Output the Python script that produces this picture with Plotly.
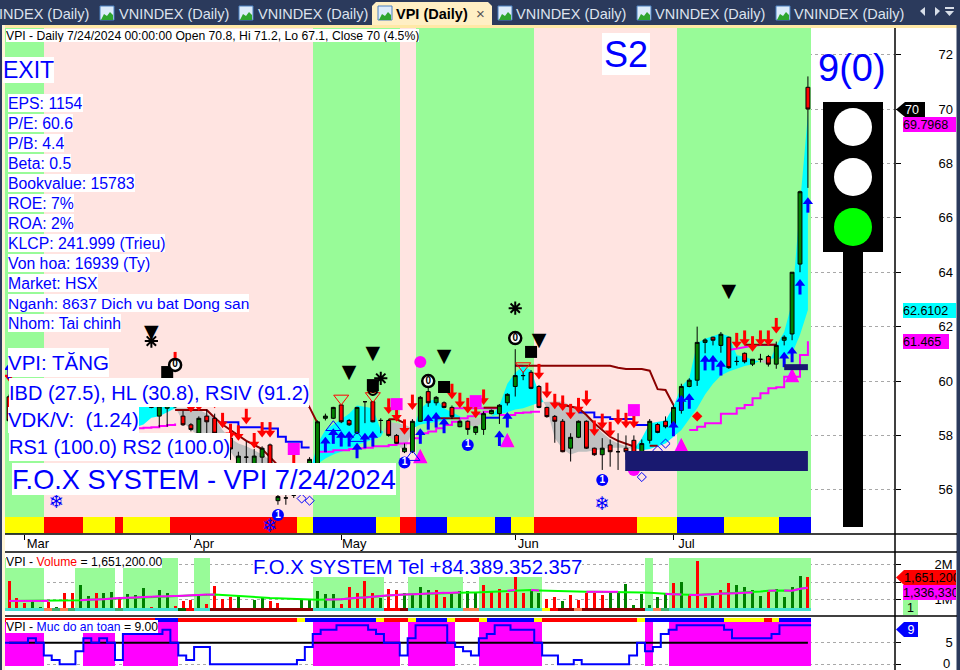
import plotly.graph_objects as go

# ---------- price data (one entry per trading bar) ----------
opens = [59.42,58.6,58.9,59.2,59.4,59.3,59.2,59.4,59.6,59.5,59.6,59.7,59.6,59.5,59.6,59.7,59.5,59.4,59.12,58.71,
         59.0,59.12,58.71,58.39,58.08,58.71,58.63,58.0,57.9,56.9,57.2,56.8,57.2,57.65,55.6,55.7,55.8,56.5,56.6,56.9,
         58.63,58.63,59.12,58.55,58.08,59.24,59.24,58.55,58.55,58.0,
         57.4,57.4,58.52,59.61,59.2,59.2,59.03,58.32,58.52,58.11,58.22,58.8,58.8,59.2,59.8,60.2,60.32,59.8,59.03,58.7,
         58.52,57.53,57.93,58.52,57.53,57.29,57.65,57.4,57.53,57.82,57.29,57.82,58.4,58.52,58.32,58.92,59.8,60.03,61.42,61.61,
         61.31,61.61,60.72,61.02,60.62,60.8,60.9,60.62,61.5,61.73,64.3,70.8]
highs = [59.5,59.0,59.3,59.5,59.6,59.5,59.5,59.7,59.8,59.7,59.8,59.9,59.8,59.7,59.8,59.9,59.7,59.6,59.2,59.2,
         59.3,59.3,58.9,58.45,58.7,58.95,58.8,58.05,58.0,57.4,57.77,57.5,57.6,57.7,55.85,55.9,55.85,56.7,57.2,58.55,
         58.8,59.05,59.15,58.6,59.05,59.24,59.26,58.63,58.6,58.05,
         57.7,58.6,59.45,59.77,59.45,59.25,59.1,58.55,58.55,58.35,58.88,58.95,59.15,59.55,61.17,60.35,60.4,59.85,59.05,58.75,
         58.6,58.08,58.55,58.55,57.55,57.9,57.85,58.08,58.0,58.0,57.85,58.6,58.45,58.7,59.12,59.9,60.1,62.0,61.57,61.63,
         61.8,61.63,60.9,61.05,60.8,61.0,60.96,61.45,61.68,64.0,67.0,71.2]
lows = [58.5,58.5,58.8,59.1,59.2,59.1,59.0,59.3,59.4,59.3,59.5,59.5,59.4,59.3,59.5,59.4,59.3,59.2,59.0,58.3,
        58.32,59.0,58.35,58.15,58.0,58.05,57.9,57.5,57.1,56.8,56.9,56.7,56.97,56.4,55.45,55.45,55.7,56.2,56.5,56.8,
        58.55,58.6,58.45,58.35,58.05,58.45,58.48,58.08,57.95,57.7,
        57.35,57.35,58.5,59.05,59.1,59.0,58.6,58.3,58.02,58.02,58.02,58.78,58.42,59.1,59.43,60.03,59.7,59.0,58.65,57.73,
        57.38,57.04,57.9,57.5,57.25,56.73,56.85,56.73,57.1,57.04,57.04,57.7,58.08,58.26,58.14,58.8,59.77,59.82,61.02,61.31,
        61.04,60.45,60.57,60.65,60.55,60.68,60.53,60.45,61.31,61.5,64.0,67.1]
closes = [58.54,58.9,59.2,59.4,59.3,59.2,59.4,59.6,59.5,59.6,59.7,59.6,59.5,59.6,59.7,59.5,59.4,59.3,59.03,59.08,
          59.1,59.05,58.39,58.22,58.63,58.5,58.08,57.6,57.5,57.24,57.2,57.24,57.53,56.6,55.75,55.7,55.8,56.3,57.12,58.5,
          58.71,59.03,58.5,58.39,59.03,59.24,58.5,58.55,58.0,57.71,
          57.53,58.52,59.4,59.2,59.4,59.03,58.69,58.52,58.22,58.32,58.8,58.92,59.11,59.51,60.2,60.2,59.73,59.03,58.69,58.52,
          57.4,57.93,58.52,57.53,57.29,57.53,57.4,57.4,57.4,57.23,57.7,58.52,58.11,58.32,59.03,59.8,60.03,61.42,61.51,61.5,
          61.72,60.49,60.72,60.71,60.8,60.8,60.62,61.31,61.61,64.0,66.96,70.0]

# cloud edges (fast / slow)
cloud_fast = [59.0,59.0,59.0,59.0,59.0,59.0,59.0,59.0,59.0,59.0,59.0,59.0,59.0,59.0,59.0,59.05,59.05,59.08,59.08,59.1,
              59.1,59.05,58.5,58.2,58.0,57.9,57.8,57.5,57.4,57.0,56.9,56.9,56.7,56.5,56.3,56.2,56.2,56.2,56.6,57.7,
              58.2,58.4,58.6,58.8,59.1,59.05,59.0,58.2,58.0,57.7,
              57.4,58.2,58.95,59.25,59.35,59.0,58.85,58.7,58.4,58.3,58.5,58.7,59.1,59.9,60.3,60.55,60.4,59.55,59.0,57.9,
              57.5,57.3,57.4,57.4,57.45,57.5,57.55,57.55,57.55,57.5,57.9,58.45,58.5,58.55,59.05,59.8,60.1,61.4,61.55,61.65,
              61.75,61.65,60.95,60.9,60.78,60.72,60.6,61.3,61.8,62.9,66.5,69.7968]
cloud_slow = [57.9,57.9,57.95,58.0,58.0,58.05,58.05,58.1,58.1,58.15,58.15,58.2,58.2,58.25,58.25,58.3,58.3,58.4,58.65,58.7,
              58.85,59.0,59.0,59.0,58.95,58.8,58.65,58.2,57.9,57.7,57.6,57.45,57.3,57.1,56.9,56.8,56.7,56.6,56.6,56.95,
              57.15,57.3,57.4,57.5,57.65,57.75,57.85,57.95,58.5,58.45,
              58.4,58.25,58.4,58.45,58.5,58.55,58.6,58.62,58.62,58.62,58.65,58.7,58.78,58.85,58.95,59.0,59.1,59.2,59.25,59.25,
              59.25,59.1,59.0,58.8,58.4,58.1,57.85,57.7,57.6,57.55,57.45,57.5,57.6,57.7,57.95,58.2,58.6,59.0,59.5,59.9,
              60.2,60.35,60.45,60.55,60.62,60.75,60.8,60.85,60.9,61.0,61.7,62.6102]

# indicator lines: bar numbers and values, None breaks the line
red_line_bars = [21,22,23,24,25,26,27,28,29,30,31,32,33,34,None,37,38,39,None,48,49,50,None,54,55,56,57,None,60,61,62,None,
                 64,65,66,67,68,69,70,71,72,73,74,75,76,77,78,79,80,81,82,83,84,None,
                 69,70,71,72,73,74,75,76,77,78,79,None,81,82,None,93,94,95,96,97]
red_line_vals = [58.93,58.93,58.93,58.93,58.93,58.65,58.4,58.2,58.0,57.8,57.65,57.5,57.2,56.9,None,59.5,59.03,58.45,None,58.59,58.59,58.45,None,58.63,58.63,58.63,58.63,None,59.02,59.02,59.02,None,
                 60.56,60.56,60.56,60.56,60.56,60.56,60.56,60.56,60.56,60.56,60.56,60.56,60.56,60.49,60.44,60.44,60.44,60.38,59.7,59.67,59.12,None,
                 59.18,59.12,59.06,59.0,58.75,58.45,58.2,57.95,57.8,57.7,57.59,None,57.62,57.62,None,61.33,61.33,61.33,61.33,61.33]
blue_line_bars = [27,28,29,30,31,32,33,34,35,36,37,38,None,60,61,62,None,72,73,74,75,76,77,78,79,80,81]
blue_line_vals = [58.48,58.48,58.3,58.3,58.3,58.25,58.25,57.95,57.77,57.77,57.56,57.56,None,58.65,58.65,58.65,None,58.84,58.84,58.67,58.67,58.6,58.6,58.6,58.38,58.38,58.38]
support_bars = [0,1,2,3,4,5,6,7,8,9,10,11,12,13,14,15,16,17,18,19,20,21,None,
                39,40,41,42,43,44,45,46,47,48,49,50,51,52,53,54,55,56,57,58,59,60,61,None,62,63,64,65,66,67,None,
                86,87,88,89,90,91,92,93,94,95,96,97,98,99,100,101]
support_vals = [57.65,57.7,57.7,57.75,57.8,57.85,57.9,57.95,57.95,58.0,58.0,58.05,58.05,58.1,58.15,58.2,58.26,58.28,58.3,58.35,58.38,58.44,None,
                57.4,57.4,57.45,57.45,57.5,57.53,57.55,57.6,57.6,57.65,57.7,57.71,57.9,58.08,58.14,58.26,58.38,58.5,58.63,58.7,58.8,58.87,58.87,None,58.75,58.75,58.82,58.84,58.87,58.91,None,
                58.2,58.32,58.45,58.45,58.8,58.8,59.0,59.12,59.37,59.55,59.73,59.77,60.16,60.16,60.96,61.465]
upper_bars = [56,57,58,59,60,61,62,None,64,65,None,91,92,93,94,95,96,97]
upper_vals = [59.0,59.0,59.0,59.0,59.0,59.0,59.0,None,60.56,60.56,None,61.14,61.2,61.25,61.3,61.32,61.33,61.33]

# signal markers
sell_bars = [0,21,23,24,26,27,28,29,30,31,32,33,36,48,49,50,51,56,57,58,59,60,67,68,69,70,71,72,73,74,75,76,77,78,79,92,93,94,95,96,97]
sell_prices = [59.98,60.5,58.84,58.9,59.0,58.26,57.86,57.8,58.41,57.52,57.92,57.92,56.73,58.79,58.5,58.02,58.93,59.33,59.0,58.81,58.63,59.12,
               60.06,59.37,58.96,58.9,58.59,58.81,59.08,57.98,58.23,57.93,58.38,58.26,58.26,61.2,61.29,61.08,61.29,61.29,61.75]
buy_bars = [0,40,41,42,43,44,45,46,52,53,54,55,62,63,84,85,86,88,89,90,98,99,100,101]
buy_prices = [60.65,57.95,58.26,58.16,58.16,57.73,58.1,58.16,58.26,58.78,58.86,58.65,58.18,58.86,58.54,59.49,59.55,60.96,60.96,60.77,61.08,61.26,63.75,66.76]
black_tri_bars = [18,43,46,55,67,91]
black_tri_prices = [61.76,60.29,60.99,60.88,61.47,63.27]
black_sq_bars = [20,46,55,66]
black_sq_prices = [60.33,59.85,59.78,61.07]
zero_bars = [21,53,64]
zero_prices = [60.59,60.0,61.58]
star_bars = [18,47,64]
star_prices = [61.47,60.1,62.68]
mag_sq_bars = [36,49,59,79]
mag_sq_prices = [57.5,59.15,59.26,58.93]
mag_tri_bars = [40,52,63,85,99]
mag_tri_prices = [56.7,57.24,57.83,57.65,60.2]
mag_dot_bars = [52,79]
mag_dot_prices = [60.7,56.73]
red_dia_bars = [87]
red_dia_prices = [58.7]
one_bars = [34,50,58,75]
one_prices = [55.07,57.0,57.65,56.36]
snow_bars = [6,33,75]
snow_prices = [55.5,54.63,55.44]
open_down_bars = [42,46,65]
open_down_prices = [59.36,59.45,60.55]
open_up_bars = [41,44,51,80]
open_up_prices = [58.3,57.9,57.2,56.85]
open_dia_bars = [37,38,80,82,83]
open_dia_prices = [55.68,55.6,56.47,57.45,57.7]

# volume (millions)
volumes = [1.53,1.03,.90,1.00,.78,.94,.78,1.18,1.19,1.41,1.10,1.20,1.20,1.21,1.06,1.15,1.13,1.33,.78,1.27,
           1.20,.81,.96,.98,1.13,.87,1.38,1.01,1.08,1.12,.71,.98,1.03,.96,.89,.72,.73,.98,.98,1.23,
           1.17,1.16,.87,1.36,1.20,1.53,1.20,1.03,1.30,1.27,1.20,1.15,1.36,1.27,1.26,1.07,1.17,1.24,1.24,1.20,
           1.41,1.24,1.30,1.20,1.63,1.19,1.27,1.19,1.01,1.07,.96,1.13,.98,1.20,1.20,1.13,1.20,1.22,1.44,.84,
           1.16,.84,1.08,1.20,1.47,1.50,1.15,2.11,1.07,1.10,1.27,1.47,1.41,1.36,1.27,1.10,1.21,1.30,1.07,1.36,1.67,1.6512]
volume_sides = list("rrrggrgrrggrggrgggrggrrrgrrrrgrggrrrggggg"
                    "grrrrrgrrgggg" "rrgggg"
                    "rrrrrrggrrgrrrrrgg" "ggggggrgrrrgrrggggr")
volume_sides = (volume_sides + ["g"] * 102)[:102]
volume_sides[-1] = "r"
volume_ma = [.96,.96,.96,.96,.96,.96,.96,.96,.97,.98,.99,1.0,1.01,1.03,1.04,1.05,1.06,1.07,1.08,1.09,
             1.09,1.10,1.11,1.12,1.13,1.14,1.14,1.13,1.12,1.11,1.09,1.07,1.06,1.04,1.03,1.01,1.0,.99,.99,.99,
             1.0,1.0,1.01,1.03,1.05,1.06,1.08,1.10,1.12,1.13,1.14,1.15,1.16,1.17,1.18,1.19,1.19,1.20,1.20,1.20,
             1.21,1.22,1.24,1.25,1.27,1.27,1.27,1.26,1.25,1.25,1.24,1.24,1.23,1.22,1.22,1.22,1.22,1.22,1.21,1.21,
             1.20,1.19,1.17,1.16,1.15,1.14,1.13,1.13,1.14,1.15,1.17,1.17,1.18,1.19,1.20,1.23,1.25,1.26,1.26,1.25,1.31,1.336]
ma_color_runs = [("m",5),("l",4),("m",17),("l",14),("m",17),("l",6),("m",1),("l",2),("m",1),("l",6),("m",4),("l",6),
                 ("m",2),("l",1),("m",8),("l",2),("m",1),("l",1),("m",4)]

# safety score 0-9
safety = [5,5,5,6,5,2,1,0,0,3,6,5,6,5,1,7,7,7,7,7,8,5,2,1,4,4,0,0,0,0,0,0,0,0,0,0,0,1,4,7,
          8,8,9,9,9,9,8,7,5,5,2,6,9,9,9,9,5,4,3,2,6,7,9,9,8,8,8,5,2,2,0,0,1,0,0,0,0,0,0,2,
          5,3,4,7,8,9,9,9,9,9,9,8,6,6,6,6,6,7,9,9,9,9]

# state runs (state, number of bars)
regime_runs = [("g",5),("p",34),("g",11),("p",2),("g",15),("p",18),("g",17)]
strip_runs = [("y",5),("r",5),("y",4),("r",1),("y",6),("r",16),("y",2),("b",8),("y",3),("r",2),("b",4),("y",6),("b",2),("y",3),
              ("r",13),("y",5),("b",6),("y",7),("b",4)]
vol_zone_runs = [("g",5),("w",4),("g",5),("w",1),("g",7),("w",2),("g",2),("w",13),("g",9),("w",3),("g",7),("w",2),("g",8),("w",13),("g",1),("w",2),("g",18)]
safe_zone_runs = [("g",5),("w",5),("g",4),("w",1),("g",7),("w",17),("g",11),("w",1),("g",6),("w",3),("g",8),("w",13),("g",1),("w",2),("g",18)]
safe_strip_runs = [("r",19),("b",3),("r",15),("y",1),("b",9),("y",1),("r",3),("y",1),("b",4),("y",1),("r",3),("y",1),("b",6),("y",1),("r",12),("y",1),("b",10),("y",5),("r",1),("y",1),("b",4)]
vol_foot = ["t"]*5 + ["c","s","c","s"] + ["t"]*5 + ["s"] + ["t"]*7 + ["d","r"] + ["t"]*2 + ["k"]*13 + ["t"]*9 + ["r","r","k"] + ["t"]*7 + ["c","c"] + ["t"]*8 + ["y","r","k","k","c"] + ["k"]*8 + ["t"] + ["c","s"] + ["t"]*18

month_bars = [2,23,42,64,84]
month_labels = ["Mar","Apr","May","Jun","Jul"]
info_lines = ["EPS: 1154","P/E: 60.6","P/B: 4.4","Beta: 0.5","Bookvalue: 15783","ROE: 7%","ROA: 2%","KLCP: 241.999 (Trieu)",
              "Von hoa: 16939 (Ty)","Market: HSX","Nganh: 8637 Dich vu bat Dong san","Nhom: Tai chinh"]
zones = [(77.9,101,56.69,57.43),(98,101,60.4,60.62)]

# ---------- helpers ----------
W, H = 960, 670
FONT = "Liberation Sans"
GREEN, PINK, BLUE, MAG = "#98FB98", "#FFE4E1", "#0000FF", "#FF00FF"
NAVY, DKRED, CYAN = "#191970", "#8B0000", "#00FFFF"
NB = len(closes)
idx = list(range(NB))
assert all(len(a) == NB for a in (opens, highs, lows, closes, cloud_fast, cloud_slow, volumes, volume_sides, volume_ma, safety, vol_foot))

def expand(runs):
    out = []
    for s, n in runs:
        out += [s] * n
    assert len(out) == NB, len(out)
    return out

def px(x): return x / W
def py(y): return 1 - y / H

fig = go.Figure()
P_LO, P_HI = 54.375, 72.98
V_LO, V_HI = 0.529, 2.357
S_LO, S_HI = -1.33, 11.17

def block(states, cmap, lo, hi, yaxis):
    """one bar for every trading bar, edges sit a little left of the candle centre"""
    fig.add_trace(go.Bar(x=idx, y=[hi - lo] * NB, base=lo, width=1, offset=-0.6,
                         marker=dict(color=[cmap[s] for s in states], line=dict(width=0)),
                         yaxis=yaxis, hoverinfo="skip", showlegend=False))

block(expand(regime_runs), {"g": GREEN, "p": PINK}, P_LO, P_HI, "y")
block(expand(strip_runs), {"y": "#FFFF00", "r": "#FF0000", "b": "#0000FF"}, 54.41, 55.0, "y")
block(expand(vol_zone_runs), {"g": GREEN, "w": "rgba(0,0,0,0)"}, 0.68, 2.186, "y2")
block(expand(safe_zone_runs), {"g": MAG, "w": "rgba(0,0,0,0)"}, -0.4, 9.8, "y3")
block(expand(safe_strip_runs), {"y": "#FFFF00", "r": "#FF0000", "b": "#0000FF"}, 9.8, 10.7, "y3")

# volume bars
fig.add_trace(go.Bar(x=idx, y=[v - 0.68 for v in volumes], base=0.68, width=0.38,
                     marker=dict(color=["#FF0000" if s == "r" else "#008000" for s in volume_sides], line=dict(width=0)),
                     yaxis="y2", hoverinfo="skip", showlegend=False))
block(vol_foot, {"t": "#40E0D0", "c": "#FF7F50", "s": "#3CB371", "d": "#006400", "r": "#FF0000", "k": "#8B0000", "y": "#FFFF00"},
      0.68, 0.76, "y2")

# cloud
def cloud_segments(a, b):
    segs = []
    def cross(i):
        d0, d1 = a[i] - b[i], a[i + 1] - b[i + 1]
        t = d0 / (d0 - d1)
        return i + t, a[i] + t * (a[i + 1] - a[i])
    cur = a[0] >= b[0]
    xs, ya, yb = [], [], []
    for i in range(NB):
        s = a[i] >= b[i]
        if s != cur:
            cx, cy = cross(i - 1)
            xs.append(cx); ya.append(cy); yb.append(cy)
            segs.append((cur, xs, ya, yb))
            xs, ya, yb = [cx], [cy], [cy]
            cur = s
        xs.append(i); ya.append(a[i]); yb.append(b[i])
    segs.append((cur, xs, ya, yb))
    return segs

for up, xs, ya, yb in cloud_segments(cloud_fast, cloud_slow):
    fig.add_trace(go.Scatter(x=xs + xs[::-1], y=ya + yb[::-1], mode="lines", fill="toself",
                             fillcolor=CYAN if up else "#C0C0C0", line=dict(width=0),
                             yaxis="y", hoverinfo="skip", showlegend=False))

def line(xs, ys, color, width=2, shape="linear", yaxis="y"):
    fig.add_trace(go.Scatter(x=xs, y=ys, mode="lines", connectgaps=False,
                             line=dict(color=color, width=width, shape=shape),
                             yaxis=yaxis, hoverinfo="skip", showlegend=False))

line(blue_line_bars, blue_line_vals, BLUE, shape="hv")
line(support_bars, support_vals, MAG, shape="hv")
line(upper_bars, upper_vals, MAG)
line(red_line_bars, red_line_vals, DKRED)

# candles sit on the overlay axis so that they stay above the cloud
fig.add_trace(go.Candlestick(x=idx, open=opens, high=highs, low=lows, close=closes, yaxis="y4",
                             increasing=dict(fillcolor="#008000", line=dict(color="black", width=1)),
                             decreasing=dict(fillcolor="#FF0000", line=dict(color="black", width=1)),
                             whiskerwidth=0, hoverinfo="skip", showlegend=False))

UNIT = 27.2  # screen pixels per price point, only used to size arrows
def arrows(bars, prices, color, direction):
    sx, sy = [], []
    for b, p in zip(bars, prices):
        sx += [b, b, None]
        sy += [p + direction * 6 / UNIT, p + direction * 15.5 / UNIT, None]
    fig.add_trace(go.Scatter(x=sx, y=sy, mode="lines", line=dict(color=color, width=3), yaxis="y4",
                             hoverinfo="skip", showlegend=False))
    fig.add_trace(go.Scatter(x=bars, y=[p + direction * 4.5 / UNIT for p in prices], mode="markers",
                             marker=dict(symbol="triangle-down" if direction > 0 else "triangle-up", size=9, color=color, line=dict(width=0)),
                             yaxis="y4", hoverinfo="skip", showlegend=False))

arrows(sell_bars, sell_prices, "#FF0000", 1)
arrows(buy_bars, buy_prices, "#0000FF", -1)

def marks(bars, prices, symbol, size, color, lw=0, lc=None, text=None, tc="black", ts=10):
    fig.add_trace(go.Scatter(x=bars, y=prices, mode="markers+text" if text else "markers",
                             marker=dict(symbol=symbol, size=size, color=color, line=dict(width=lw, color=lc or color)),
                             text=[text] * len(bars) if text else None, textposition="middle center",
                             textfont=dict(family=FONT, size=ts, color=tc),
                             yaxis="y4", hoverinfo="skip", showlegend=False))

def glyphs(bars, prices, glyph, size, color):
    fig.add_trace(go.Scatter(x=bars, y=prices, mode="text", text=[glyph] * len(bars), textposition="middle center",
                             textfont=dict(family="DejaVu Sans", size=size, color=color), yaxis="y4", hoverinfo="skip", showlegend=False))

marks(mag_dot_bars, mag_dot_prices, "circle", 12, MAG)
glyphs(mag_tri_bars, mag_tri_prices, "▲", 19, MAG)
marks(mag_sq_bars, mag_sq_prices, "square", 12, MAG)
marks(red_dia_bars, red_dia_prices, "diamond", 8, "#FF0000")
marks(open_down_bars, open_down_prices, "triangle-down-open", 13, "#FF0000", 1, "#FF0000")
marks(open_up_bars, open_up_prices, "triangle-up-open", 13, BLUE, 1, BLUE)
marks(open_dia_bars, open_dia_prices, "diamond-open", 7, BLUE, 1, BLUE)
glyphs(black_tri_bars, black_tri_prices, "▼", 19, "black")
marks(black_sq_bars, black_sq_prices, "square", 12, "black")
marks(star_bars, star_prices, "asterisk-open", 11, "black", 2, "black")
marks(zero_bars, zero_prices, "circle", 12, "white", 2.5, "black", "<b>0</b>", "black", 10)
marks(one_bars, one_prices, "circle", 12, BLUE, 0, None, "<b>1</b>", "white", 10)
glyphs(snow_bars, snow_prices, "❄", 19, BLUE)
glyphs([46], [59.6], "☻", 12, "black")

# volume moving average, two colours
line(idx, volume_ma, "#00FF00", 2, yaxis="y2")
ma_flags = expand(ma_color_runs)
mx, my = [], []
for i in range(NB - 1):
    if ma_flags[i] == "m":
        mx += [i, i + 1, None]
        my += [volume_ma[i], volume_ma[i + 1], None]
line(mx, my, MAG, 2, yaxis="y2")

# safety panel
sx, sy = [], []
for i, v in enumerate(safety):
    sx.append(i - 0.6); sy.append(v)
sx.append(NB - 1 + 0.4); sy.append(safety[-1])
line(idx, [5] * NB, "black", 2, yaxis="y3")
line(sx, sy, BLUE, 2, shape="hv", yaxis="y3")

# ---------- frame and decoration ----------
shapes = []
def rect(x0, y0, x1, y1, color, lw=0, lc=None, kind="rect"):
    shapes.append(dict(type=kind, xref="paper", yref="paper", x0=px(x0), x1=px(x1), y0=py(y1), y1=py(y0),
                       fillcolor=color, line=dict(width=lw, color=lc or color), layer="above"))
def hline(x0, x1, y, w=1.5):
    shapes.append(dict(type="line", xref="paper", yref="paper", x0=px(x0), x1=px(x1), y0=py(y), y1=py(y),
                       line=dict(color="black", width=w), layer="above"))
def poly(pts, color):
    d = "M " + " L ".join(f"{px(a):.5f},{py(b):.5f}" for a, b in pts) + " Z"
    shapes.append(dict(type="path", xref="paper", yref="paper", path=d, fillcolor=color, line=dict(width=0), layer="above"))

TAB = "#2B3A5C"
rect(0, 0, 960, 25, TAB)
rect(0, 25, 960, 28, "#FFE8A6")
rect(0, 25, 2, 670, TAB)
rect(2, 25, 5, 670, "#FFF4D6")
rect(956.5, 25, 960, 670, TAB)
poly([(372, 25), (372, 6), (376, 2), (488, 2), (492, 6), (492, 25)], "#FFEFC4")
for ix in (100, 239, 378, 498, 637, 776):
    rect(ix, 6, ix + 14, 20, "#DCEBFA", 1, "#4A80C0")
    poly([(ix + 1, 20), (ix + 4, 14), (ix + 7, 16), (ix + 10, 12), (ix + 13, 15), (ix + 13, 20)], "#2EA52E")
poly([(920, 11), (925, 7), (925, 16)], "#D8DEE8")
poly([(935, 7), (940, 11), (935, 16)], "#D8DEE8")
rect(945, 7, 954, 9, "#D8DEE8")
poly([(945, 11), (954, 11), (949.5, 16)], "#D8DEE8")
hline(5, 957, 534, 1.5)
hline(5, 957, 552, 1.5)
hline(5, 957, 616, 1.5)
shapes.append(dict(type="line", xref="paper", yref="paper", x0=px(895), x1=px(895), y0=0, y1=py(28), line=dict(color="black", width=1.5), layer="above"))

# traffic light
rect(843, 252, 863, 527, "black")
rect(823, 102, 883, 252, "black")
rect(834, 108, 872, 146, "white", kind="circle")
rect(834, 158, 872, 196, "white", kind="circle")
rect(834, 208, 872, 246, "#00FF00", kind="circle")

# price zones on the data axes
for x0, x1, lo, hi in zones:
    shapes.append(dict(type="rect", xref="x", yref="y", x0=x0, x1=x1, y0=lo, y1=hi, fillcolor=NAVY, line=dict(width=0), layer="above"))

# badge pointers
for tip, edge, y0, y1, col in [(896, 905, 102, 117, "black"), (896, 904, 570, 585, "#FF0000"), (896, 904, 622, 637, BLUE)]:
    poly([(tip, (y0 + y1) / 2), (edge, y0), (edge, y1)], col)

anns = []
def text(t, x, yc, size, color=BLUE, bg="white", h=None, w=None, anchor="left", font=FONT, align="left"):
    a = dict(text=t, xref="paper", yref="paper", x=px(x), y=py(yc), xanchor=anchor, yanchor="middle", showarrow=False,
             font=dict(family=font, size=size, color=color), borderpad=0, borderwidth=0, align=align, valign="middle")
    if bg: a["bgcolor"] = bg
    if h: a["height"] = h
    if w: a["width"] = w
    anns.append(a)

for x, lab in [(-1, "INDEX (Daily)"), (119, "VNINDEX (Daily)"), (258, "VNINDEX (Daily)"), (516, "VNINDEX (Daily)"), (655, "VNINDEX (Daily)"), (794, "VNINDEX (Daily)")]:
    text(lab, x, 14, 14.5, "#DDE3EE", None)
text("<b>VPI (Daily)</b>", 396, 14, 14.5, "black", None)
text("×", 476, 13, 15, "#555555", None)

text("VPI - Daily 7/24/2024 00:00:00 Open 70.8, Hi 71.2, Lo 67.1, Close 70 (4.5%)", 6, 35, 12.2, "black", "white", 13)
text("S2", 602, 54, 36, BLUE, "white", 42, 48, align="center")
text("EXIT", 3, 70, 23, BLUE, "white", 26)
for k, line_text in enumerate(info_lines):
    text(line_text, 8, 103 + 20 * k, 15.5 if k == 10 else 15.8, BLUE, "white", 18)
text("VPI: TĂNG", 8, 362, 20.5, BLUE, "white", 29)
text("IBD (27.5), HL (30.8), RSIV (91.2)", 9, 392, 20, BLUE, "white", 29)
text("VDK/V:  (1.24)", 8, 420, 20.4, BLUE, "white", 26)
text("RS1 (100.0) RS2 (100.0)", 9, 447, 20, BLUE, "white", 28)
text("F.O.X SYSTEM - VPI 7/24/2024", 12, 479, 27.2, BLUE, "white", 32)
text("9(0)", 818, 68, 38, BLUE, None)
text("F.O.X SYSTEM Tel +84.389.352.357", 253, 566, 20.3, BLUE, "white", 21)
text('VPI - <span style="color:#FF0000">Volume</span> = 1,651,200.00', 6, 562, 12.2, "black", "white", 12)
text('VPI - <span style="color:#0000FF">Muc do an toan</span> = 9.00', 6, 626, 12.2, "black", "white", 13)

text("70", 905, 109.5, 12.5, "white", "black", 15, 20)
text("69.7968", 903, 124.5, 12.5, "black", MAG, 15, 53)
text("62.6102", 903, 310.5, 12.5, "black", CYAN, 15, 53)
text("61.465", 903, 341.5, 12.5, "black", MAG, 15, 46)
text("1,651,200", 904, 577.5, 12.5, "black", "#FF0000", 15, 52)
text("1,336,330", 903, 592.5, 12.5, "black", MAG, 15, 53)
text("1", 903, 607.5, 12.5, "black", GREEN, 15, 15, align="center")
text("9", 904, 629.5, 12.5, "white", BLUE, 15, 14, align="center")
text("0", 943, 663.5, 13, "black", None)   # lowest tick of the safety axis

def domain(top, bottom):
    return [1 - bottom / H, 1 - top / H]

axis_common = dict(side="right", anchor="x", showline=False, zeroline=False, ticks="outside", ticklen=5, tickwidth=1, tickcolor="black",
                   showgrid=True, gridcolor="#A8A8A8", griddash="dot", gridwidth=1, fixedrange=True,
                   tickfont=dict(family=FONT, size=13, color="black"))

fig.update_layout(
    width=W, height=H, autosize=False, margin=dict(l=0, r=0, t=0, b=0, pad=0),
    paper_bgcolor="white", plot_bgcolor="white", showlegend=False, barmode="overlay", bargap=0,
    font=dict(family=FONT),
    xaxis=dict(domain=[5 / W, 895 / W], range=[-0.506, 112.01], anchor="y", tickvals=month_bars, ticktext=month_labels,
               ticks="outside", ticklen=5, tickwidth=1, tickcolor="black", showgrid=False, zeroline=False, showline=False,
               rangeslider=dict(visible=False), fixedrange=True, ticklabelshift=13, ticklabelstandoff=-8,
               tickfont=dict(family=FONT, size=13, color="black")),
    yaxis=dict(domain=domain(28, 534), range=[P_LO, P_HI], tickvals=list(range(56, 73, 2)), ticktext=[str(v) for v in range(56, 73, 2)],
               ticklabelstandoff=35, **axis_common),
    yaxis2=dict(domain=domain(552, 616), range=[V_LO, V_HI], tickvals=[1, 1.5, 2], ticktext=["1M", "", "2M"], ticklabelstandoff=31, **axis_common),
    yaxis3=dict(domain=domain(616, 670), range=[S_LO, S_HI], tickvals=[0, 5], ticktext=["", "5"], ticklabelstandoff=42, **axis_common),
    yaxis4=dict(overlaying="y", side="right", anchor="x", range=[P_LO, P_HI], visible=False, fixedrange=True, showgrid=False),
    shapes=shapes, annotations=anns,
)

fig.write_html("out.html", config=dict(displayModeBar=False, staticPlot=True),
               post_script="document.body.style.margin='0';document.body.style.overflow='hidden';")
